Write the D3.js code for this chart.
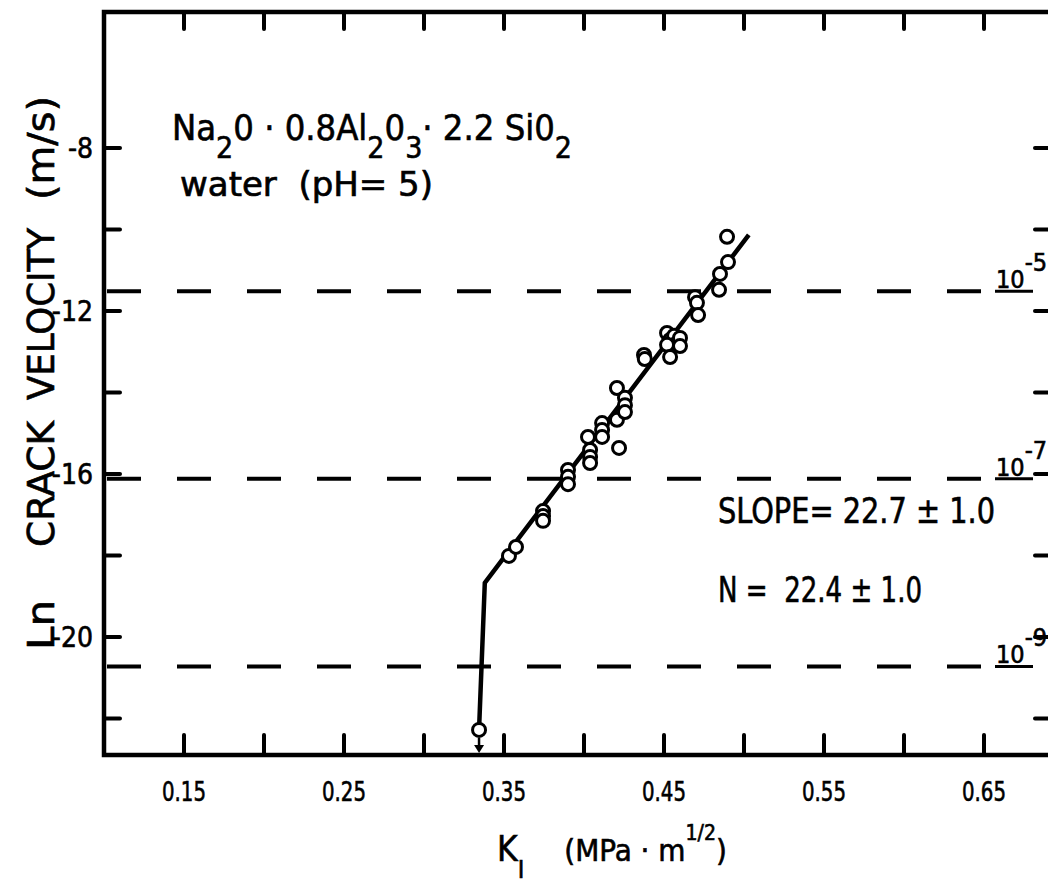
<!DOCTYPE html>
<html>
<head>
<meta charset="utf-8">
<script src="https://cdnjs.cloudflare.com/ajax/libs/d3/7.8.5/d3.min.js"></script>
<style>
  body { margin: 0; background: #fff; }
  text { font-family: "DejaVu Sans Condensed", "Liberation Sans", sans-serif; fill: #000; stroke: #000; stroke-width: 0.6px; }
</style>
</head>
<body>
<div id="chart"></div>
<script>
// measured points: stress intensity K_I (MPa m^1/2) and ln of crack velocity (m/s)
const kValues = [0.3344, 0.3531, 0.3575, 0.3744, 0.3744, 0.3744, 0.3900, 0.3900, 0.3900,
  0.4025, 0.4038, 0.4038, 0.4038, 0.4113, 0.4113, 0.4113, 0.4206, 0.4206, 0.4256, 0.4256,
  0.4256, 0.4219, 0.4375, 0.4380, 0.4519, 0.4538, 0.4563, 0.4581, 0.4600, 0.4600, 0.4519,
  0.4538, 0.4694, 0.4706, 0.4713, 0.4844, 0.4850, 0.4900, 0.4894];
const lnVelocity = [-22.28, -18.01, -17.79, -16.91, -17.03, -17.15, -15.90, -16.07, -16.25,
  -15.09, -15.41, -15.58, -15.73, -14.75, -14.92, -15.09, -13.89, -14.67, -14.13, -14.31,
  -14.48, -15.36, -13.08, -13.18, -12.54, -12.71, -12.61, -12.79, -12.66, -12.86, -12.83,
  -13.13, -11.66, -11.80, -12.10, -11.48, -11.09, -10.80, -10.18];

// fitted curve (vertical threshold branch, then slope region)
const fitK = [0.3344, 0.3380, 0.5030];
const fitLnV = [-22.28, -18.67, -10.13];

const xTickValues = [0.15, 0.20, 0.25, 0.30, 0.35, 0.40, 0.45, 0.50, 0.55, 0.60, 0.65, 0.70];
const xTickLabels = ["0.15", "0.25", "0.35", "0.45", "0.55", "0.65"];
const yTickValues = [-8, -10, -12, -14, -16, -18, -20, -22];
const yTickLabels = ["-8", "-12", "-16", "-20"];

// reference velocities drawn as dashed lines
const refVelocity = [1e-5, 1e-7, 1e-9];
const refExponent = ["-5", "-7", "-9"];

// y title words, spread along the axis
const yTitleWords = ["Ln", "CRACK", "VELOCITY", "(m/s)"];
const yTitleCenters = [625, 484, 314, 148];
const yTitleLengths = [50, 126, 172, 104];

const W = 1048, H = 889;
const frame = { left: 104, right: 1051, top: 12, bottom: 755 };

const x = d3.scaleLinear().domain([0.10, 0.70]).range([104, 1064]);
const y = d3.scaleLinear().domain([-8, -20]).range([148, 637]);

const svg = d3.select("#chart").append("svg")
  .attr("width", W).attr("height", H);

svg.append("rect").attr("width", W).attr("height", H).attr("fill", "#fff");

// reference dashed lines
refVelocity.forEach((v, i) => {
  const yy = y(Math.log(v));
  svg.append("line")
    .attr("x1", frame.left + 3).attr("x2", 988)
    .attr("y1", yy).attr("y2", yy)
    .attr("stroke", "#000").attr("stroke-width", 4)
    .attr("stroke-dasharray", "34 36");
  svg.append("line")
    .attr("x1", 995).attr("x2", 1033)
    .attr("y1", yy).attr("y2", yy)
    .attr("stroke", "#000").attr("stroke-width", 3);
  const t = svg.append("text")
    .attr("x", 996).attr("y", yy - 3)
    .style("font-size", "25px");
  t.append("tspan").text("10");
  t.append("tspan").attr("dy", -17).text(refExponent[i]);
});

// frame
svg.append("path")
  .attr("d", `M${frame.right},${frame.top} H${frame.left} V${frame.bottom} H${frame.right}`)
  .attr("fill", "none").attr("stroke", "#000").attr("stroke-width", 4.5);

// ticks on all four sides, pointing inward
const g = svg.append("g").attr("stroke", "#000").attr("stroke-width", 4).attr("stroke-linecap", "round");
xTickValues.forEach(v => {
  g.append("line").attr("x1", x(v)).attr("x2", x(v)).attr("y1", frame.top).attr("y2", frame.top + 17);
  g.append("line").attr("x1", x(v)).attr("x2", x(v)).attr("y1", frame.bottom).attr("y2", frame.bottom - 20);
});
yTickValues.forEach(v => {
  g.append("line").attr("x1", frame.left).attr("x2", frame.left + 16).attr("y1", y(v)).attr("y2", y(v));
  g.append("line").attr("x1", frame.right).attr("x2", frame.right - 16).attr("y1", y(v)).attr("y2", y(v));
});

// tick labels
xTickLabels.forEach(s => {
  svg.append("text")
    .attr("x", x(+s)).attr("y", 801)
    .attr("text-anchor", "middle")
    .style("font-size", "27px")
    .attr("textLength", 44).attr("lengthAdjust", "spacingAndGlyphs")
    .text(s);
});
yTickLabels.forEach(s => {
  svg.append("text")
    .attr("x", 93).attr("y", y(+s) + 10)
    .attr("text-anchor", "end")
    .style("font-size", "28px")
    .text(s);
});

// axis titles
yTitleWords.forEach((w, i) => {
  svg.append("text")
    .attr("transform", `translate(54,${yTitleCenters[i]}) rotate(-90)`)
    .attr("text-anchor", "middle")
    .style("font-size", "38px")
    .attr("textLength", yTitleLengths[i]).attr("lengthAdjust", "spacingAndGlyphs")
    .text(w);
});

const xt = svg.append("text").attr("x", 497).attr("y", 861).style("font-size", "35px");
xt.append("tspan").text("K");
xt.append("tspan").attr("dy", 17).style("font-size", "25px").text("I");
xt.append("tspan").attr("dy", -17).attr("dx", 40).style("font-size", "31px").text("(MPa · m");
xt.append("tspan").attr("dy", -21).style("font-size", "21px").text("1/2");
xt.append("tspan").attr("dy", 21).style("font-size", "31px").text(")");

// annotations
const f = svg.append("text").attr("x", 172).attr("y", 140).style("font-size", "36px");
f.append("tspan").text("Na");
f.append("tspan").attr("dy", 18).style("font-size", "30px").text("2");
f.append("tspan").attr("dy", -18).text("0 · 0.8Al");
f.append("tspan").attr("dy", 18).style("font-size", "30px").text("2");
f.append("tspan").attr("dy", -18).text("0");
f.append("tspan").attr("dy", 18).style("font-size", "30px").text("3");
f.append("tspan").attr("dy", -18).text("· 2.2 Si0");
f.append("tspan").attr("dy", 18).style("font-size", "30px").text("2");

svg.append("text").attr("x", 180).attr("y", 196).style("font-size", "33px")
  .attr("textLength", 253).attr("lengthAdjust", "spacingAndGlyphs")
  .attr("xml:space", "preserve").text("water  (pH= 5)");
svg.append("text").attr("x", 718).attr("y", 523).style("font-size", "36px")
  .attr("textLength", 277).attr("lengthAdjust", "spacingAndGlyphs")
  .text("SLOPE= 22.7 ± 1.0");
svg.append("text").attr("x", 718).attr("y", 602).style("font-size", "36px")
  .attr("textLength", 204).attr("lengthAdjust", "spacingAndGlyphs")
  .attr("xml:space", "preserve").text("N =  22.4 ± 1.0");

// fitted line
const line = d3.line().x(d => x(d[0])).y(d => y(d[1]));
svg.append("path")
  .datum(d3.zip(fitK, fitLnV))
  .attr("d", line)
  .attr("fill", "none").attr("stroke", "#000").attr("stroke-width", 4.5)
  .attr("stroke-linejoin", "round");

// data circles
svg.append("g").selectAll("circle")
  .data(d3.zip(kValues, lnVelocity))
  .join("circle")
  .attr("cx", d => x(d[0])).attr("cy", d => y(d[1]))
  .attr("r", 6.5)
  .attr("fill", "#fff").attr("stroke", "#000").attr("stroke-width", 3);

// arrow below lowest point (velocity below detection)
const ax = x(kValues[0]), ay = y(lnVelocity[0]);
svg.append("line").attr("x1", ax).attr("x2", ax).attr("y1", ay + 8).attr("y2", frame.bottom - 6)
  .attr("stroke", "#000").attr("stroke-width", 2.5);
svg.append("path")
  .attr("d", `M${ax - 5},${frame.bottom - 10} L${ax + 5},${frame.bottom - 10} L${ax},${frame.bottom - 2} Z`)
  .attr("fill", "#000");
</script>
</body>
</html>
